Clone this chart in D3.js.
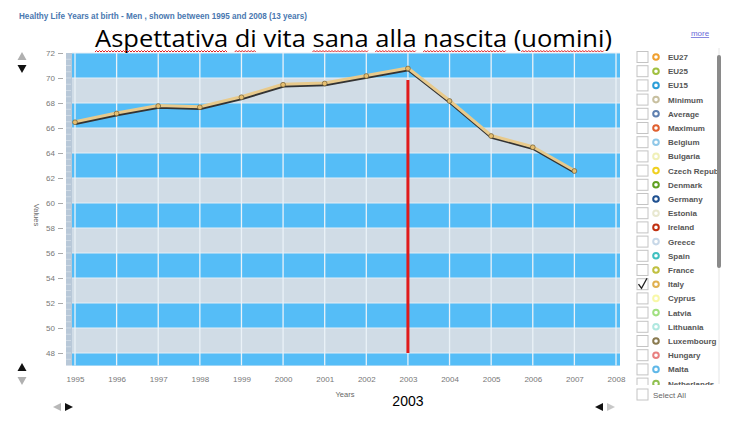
<!DOCTYPE html>
<html><head><meta charset="utf-8">
<script src="https://cdn.jsdelivr.net/npm/d3@7"></script>
<style>body{margin:0;background:#fff}svg{display:block}</style>
</head><body>
<svg id="c" width="740" height="427"></svg>
<script>
const years = [1995,1996,1997,1998,1999,2000,2001,2002,2003,2004,2005,2006,2007];
const italy = [66.5,67.2,67.8,67.7,68.5,69.5,69.6,70.2,70.8,68.2,65.4,64.5,62.6];
const xTicks = [1995,1996,1997,1998,1999,2000,2001,2002,2003,2004,2005,2006,2007,2008];
const yTicks = [48,50,52,54,56,58,60,62,64,66,68,70,72];
const blueBands = [[70,72],[66,68],[62,64],[58,60],[54,56],[50,52],[47,48]];
const highlightYear = 2003;
const legendNames = ["EU27","EU25","EU15","Minimum","Average","Maximum","Belgium","Bulgaria","Czech Republic","Denmark","Germany","Estonia","Ireland","Greece","Spain","France","Italy","Cyprus","Latvia","Lithuania","Luxembourg","Hungary","Malta","Netherlands"];
const legendColors = ["#f0a030","#a0c040","#2a9ed8","#c8c0a0","#5f80b0","#e06030","#90c8e8","#f0f0b8","#f0d020","#60a020","#1f5090","#e8e8d0","#c03010","#c8d8e8","#40c0c0","#c0c040","#e0b050","#f8f8a8","#a0e080","#b0e8e0","#8a7a50","#e88080","#60b8e8","#90c050"];
const checked = ["Italy"];
const title = "Healthy Life Years at birth - Men  , shown between 1995 and 2008 (13 years)";
const bigTitle = "Aspettativa di vita sana alla nascita (uomini)";
const squiggleWords = ["Aspettativa","di","sana","alla","nascita","uomini"];

const svg = d3.select("#c");
const x = d3.scaleLinear().domain([1995,2008]).range([75,616]);
const y = d3.scaleLinear().domain([47,72]).range([365.5,53]);
const plotL = 72, plotR = 620;

// small title
svg.append("text").attr("x",19).attr("y",19).attr("font-family","Arial, Liberation Sans").attr("font-weight","bold")
  .attr("font-size",9).attr("fill","#4a78b0").attr("textLength",288).attr("lengthAdjust","spacingAndGlyphs").text(title);

// plot background
svg.append("rect").attr("x",plotL).attr("y",y(72)).attr("width",plotR-plotL).attr("height",y(47)-y(72)).attr("fill","#d0dce6");
svg.selectAll(".band").data(blueBands).join("rect")
  .attr("x",plotL).attr("width",plotR-plotL)
  .attr("y",d=>y(d[1])).attr("height",d=>y(d[0])-y(d[1])).attr("fill","#55bdf7");
svg.selectAll(".hl").data(yTicks).join("line")
  .attr("x1",plotL).attr("x2",plotR).attr("y1",d=>y(d)).attr("y2",d=>y(d)).attr("stroke","#e4eef6").attr("stroke-width",1);
svg.selectAll(".vg").data(xTicks).join("line")
  .attr("x1",d=>x(d)).attr("x2",d=>x(d)).attr("y1",y(72)).attr("y2",y(47)).attr("stroke","#eaf2f8").attr("stroke-width",1.3);
svg.append("rect").attr("x",66).attr("y",y(72)).attr("width",6).attr("height",y(47)-y(72)).attr("fill","#b8c8d8");
svg.selectAll(".mt").data(d3.range(47,72,0.5)).join("line")
  .attr("x1",66).attr("x2",71).attr("y1",d=>y(d)).attr("y2",d=>y(d)).attr("stroke","#d6e0ea").attr("stroke-width",0.8);

// y axis labels
const yAxisG = svg.append("g").attr("transform","translate(63,0)");
yAxisG.call(d3.axisLeft(y).tickValues(yTicks).tickSize(5).tickPadding(3));
yAxisG.select(".domain").remove();
yAxisG.selectAll("line").attr("stroke","#aaa");
yAxisG.selectAll("text").attr("fill","#777").attr("font-size",8).attr("font-family","Arial, Liberation Sans");

// x axis labels
const xAxisG = svg.append("g").attr("transform","translate(0,372)");
xAxisG.call(d3.axisBottom(x).tickValues(xTicks).tickFormat(d3.format("d")).tickSize(0).tickPadding(4));
xAxisG.select(".domain").remove();
xAxisG.selectAll("text").attr("fill","#777").attr("font-size",8).attr("font-family","Arial, Liberation Sans");

svg.append("text").attr("x",345).attr("y",397).attr("text-anchor","middle").attr("font-size",7.5)
  .attr("font-family","Arial, Liberation Sans").attr("fill","#666").text("Years");
svg.append("text").attr("transform","translate(34,215) rotate(90)").attr("text-anchor","middle").attr("font-size",7.5)
  .attr("font-family","Arial, Liberation Sans").attr("fill","#666").text("Values");

// line with shadow
const line = d3.line().x((d,i)=>x(years[i])).y(d=>y(d));
svg.append("path").datum(italy).attr("d",line).attr("fill","none").attr("stroke","#333").attr("stroke-width",3)
  .attr("transform","translate(0.5,1.8)").attr("stroke-linejoin","round");
svg.append("path").datum(italy).attr("d",line).attr("fill","none").attr("stroke","#e8ca8c").attr("stroke-width",3).attr("stroke-linejoin","round");
svg.selectAll(".pt").data(italy).join("circle")
  .attr("cx",(d,i)=>x(years[i])).attr("cy",d=>y(d)+0.5).attr("r",2.4)
  .attr("fill","#e8c070").attr("stroke","#6a5a38").attr("stroke-width",0.7);

// red line
svg.append("line").attr("x1",x(highlightYear)).attr("x2",x(highlightYear)).attr("y1",80).attr("y2",y(48))
  .attr("stroke","#e01a1a").attr("stroke-width",3);
svg.append("text").attr("x",x(highlightYear)).attr("y",406).attr("text-anchor","middle").attr("font-size",14)
  .attr("font-family","Arial, Liberation Sans").attr("fill","#000").text(String(highlightYear));

// big title
const bt = svg.append("text").attr("x",95).attr("y",47).attr("font-family","'Open Sans', 'DejaVu Sans'")
  .attr("font-size",24).attr("fill","#000").attr("textLength",517).attr("lengthAdjust","spacingAndGlyphs").text(bigTitle);
const node = bt.node();
squiggleWords.forEach(w=>{
  const idx = bigTitle.indexOf(w);
  let x0, x1;
  try { x0 = node.getStartPositionOfChar(idx).x; x1 = node.getEndPositionOfChar(idx+w.length-1).x; } catch(e){ return; }
  let p = "M"+x0+",52";
  let k = 0;
  for (let xx = x0+1.5; xx <= x1; xx += 1.5) { k++; p += " L"+xx+","+(k%2?50.5:52); }
  svg.append("path").attr("d",p).attr("fill","none").attr("stroke","#e02020").attr("stroke-width",1);
});

// arrows
function tri(cx, cy, up, col){
  const h=8, w=9;
  const pts = up ? [[cx-w/2,cy+h/2],[cx+w/2,cy+h/2],[cx,cy-h/2]] : [[cx-w/2,cy-h/2],[cx+w/2,cy-h/2],[cx,cy+h/2]];
  svg.append("path").attr("d","M"+pts.map(p=>p.join(",")).join("L")+"Z").attr("fill",col);
}
function triH(cx, cy, right, col){
  const h=8, w=8;
  const pts = right ? [[cx-w/2,cy-h/2],[cx-w/2,cy+h/2],[cx+w/2,cy]] : [[cx+w/2,cy-h/2],[cx+w/2,cy+h/2],[cx-w/2,cy]];
  svg.append("path").attr("d","M"+pts.map(p=>p.join(",")).join("L")+"Z").attr("fill",col);
}
tri(22,56,true,"#b0b0b0"); tri(22,69,false,"#111");
tri(22,367,true,"#111"); tri(22,381,false,"#b0b0b0");
triH(57,407,false,"#b8b8b8"); triH(69,407,true,"#111");
triH(599,407,false,"#111"); triH(611,407,true,"#c8c8c8");

// "more" link
svg.append("text").attr("x",700).attr("y",36).attr("text-anchor","middle").attr("font-size",8)
  .attr("font-family","Arial, Liberation Sans").attr("fill","#6a6ad8").attr("text-decoration","underline").text("more");

// legend
svg.append("defs").append("clipPath").attr("id","lc").append("rect").attr("x",630).attr("y",48).attr("width",90).attr("height",337);
const lg = svg.append("g").attr("clip-path","url(#lc)");
const rowY = d3.scaleLinear().domain([0,1]).range([57,71.2]);
const rows = lg.selectAll(".row").data(legendNames).join("g").attr("transform",(d,i)=>`translate(0,${rowY(i)})`);
rows.append("rect").attr("x",637).attr("y",-5.5).attr("width",11).attr("height",11).attr("fill","#fff").attr("stroke","#c4c4c4").attr("stroke-width",1);
rows.append("circle").attr("cx",656).attr("cy",0).attr("r",2.8).attr("fill","none").attr("stroke",(d,i)=>legendColors[i]).attr("stroke-width",2);
rows.append("text").attr("x",668).attr("y",3).attr("font-size",8).attr("font-weight","bold").attr("font-family","Arial, Liberation Sans")
  .attr("fill","#555").text(d=>d);
rows.filter(d=>checked.includes(d)).append("path").attr("d","M638.5,0 L641.5,4 L647,-6").attr("fill","none").attr("stroke","#222").attr("stroke-width",1.3);

// scrollbar
svg.append("line").attr("x1",719).attr("x2",719).attr("y1",48).attr("y2",384).attr("stroke","#e6e6e6").attr("stroke-width",1);
svg.append("rect").attr("x",717).attr("y",55).attr("width",4).attr("height",213).attr("rx",2).attr("fill","#8a8a8a");

// select all
svg.append("rect").attr("x",637).attr("y",389).attr("width",11).attr("height",11).attr("fill","#fff").attr("stroke","#c4c4c4");
svg.append("text").attr("x",653).attr("y",397.5).attr("font-size",8).attr("font-family","Arial, Liberation Sans").attr("fill","#666").text("Select All");
</script>
</body></html>
